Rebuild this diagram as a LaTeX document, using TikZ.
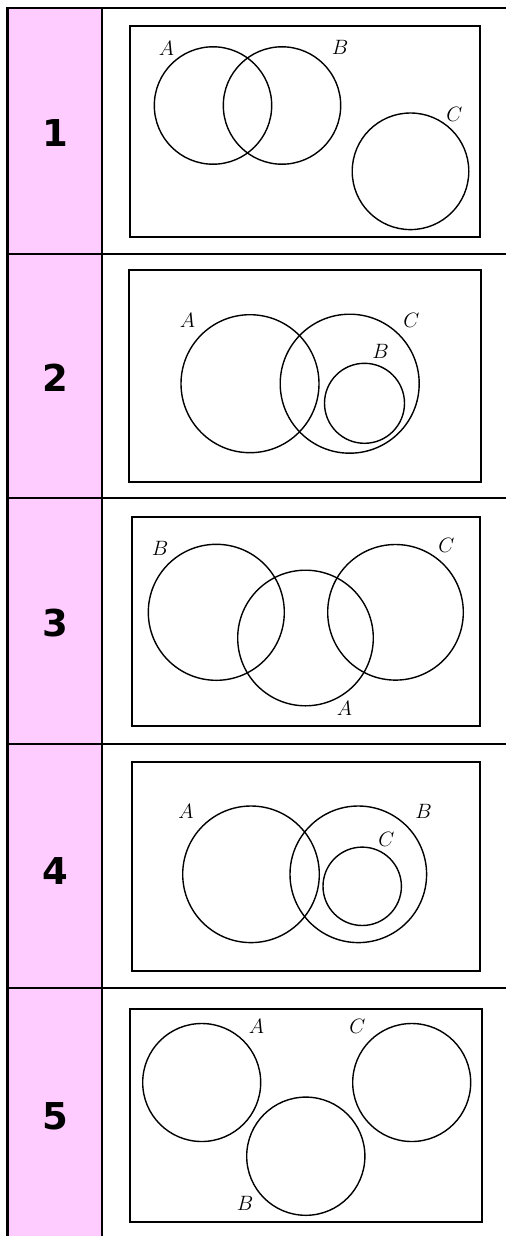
\documentclass[tikz,border=0pt]{standalone}
\usepackage{fontspec}
\newfontfamily\numfont{DejaVu Sans}
\definecolor{rowpink}{RGB}{255,204,255}
\begin{document}
\begin{tikzpicture}[x=1pt, y=-1pt,
    venn/.style={line width=1.4pt},
    frame/.style={line width=1.5pt},
    rule/.style={line width=2.2pt},
    setlabel/.style={inner sep=0pt, font=\fontsize{20}{22}\selectfont},
    rownum/.style={inner sep=0pt, font=\numfont\bfseries\fontsize{37}{39}\selectfont}]
    \useasboundingbox (0,0) rectangle (506,1236);

    % 左列底色
    \fill[rowpink] (7.5,8.3) rectangle (102,1236);

    % 表格线
    \draw[rule] (7.5,1236) -- (7.5,8.3) -- (506,8.3);
    \draw[rule] (102,8.3) -- (102,1236);
    \foreach \y in {254,498,744,988}
        \draw[rule] (7.5,\y) -- (506,\y);

    % 编号
    \node[rownum] (n1) at (55,133) {1};
    \node[rownum] (n2) at (55,378) {2};
    \node[rownum] (n3) at (55,623) {3};
    \node[rownum] (n4) at (55,871) {4};
    \node[rownum] (n5) at (55,1116) {5};

    % 图 1
    \draw[frame] (130,26) rectangle (480,237);
    \draw[venn] (213,105.5) circle (58.7);
    \draw[venn] (282,105.5) circle (58.7);
    \draw[venn] (410.5,171.3) circle (58.3);
    \node[setlabel] (a1) at (166.5,48) {$A$};
    \node[setlabel] (b1) at (340,47.5) {$B$};
    \node[setlabel] (c1) at (454.5,114) {$C$};

    % 图 2
    \draw[frame] (129,270) rectangle (481,482);
    \draw[venn] (250,383.7) circle (69);
    \draw[venn] (349.7,383.7) circle (69.5);
    \draw[venn] (364.5,403.3) circle (40);
    \node[setlabel] (a2) at (187.5,320) {$A$};
    \node[setlabel] (c2) at (411.5,320) {$C$};
    \node[setlabel] (b2) at (380.5,351.5) {$B$};

    % 图 3
    \draw[frame] (132,517) rectangle (480,726);
    \draw[venn] (216.3,612.3) circle (68);
    \draw[venn] (305.5,638) circle (67.8);
    \draw[venn] (395.5,612.3) circle (67.8);
    \node[setlabel] (b3) at (160,548) {$B$};
    \node[setlabel] (c3) at (446.5,545) {$C$};
    \node[setlabel] (a3) at (344.5,708.5) {$A$};

    % 图 4
    \draw[frame] (132,762) rectangle (480,971);
    \draw[venn] (251,874.3) circle (68.3);
    \draw[venn] (358.3,874.3) circle (68.3);
    \draw[venn] (362.2,886.3) circle (39.2);
    \node[setlabel] (a4) at (186,811) {$A$};
    \node[setlabel] (b4) at (423.5,811) {$B$};
    \node[setlabel] (c4) at (386.5,839) {$C$};

    % 图 5
    \draw[frame] (130,1009) rectangle (482,1222);
    \draw[venn] (201.7,1082.5) circle (59);
    \draw[venn] (305.8,1156.2) circle (59.1);
    \draw[venn] (411.7,1082.5) circle (59);
    \node[setlabel] (a5) at (256.5,1026.5) {$A$};
    \node[setlabel] (c5) at (357.5,1026.5) {$C$};
    \node[setlabel] (b5) at (245,1203.5) {$B$};
\end{tikzpicture}
\end{document}
